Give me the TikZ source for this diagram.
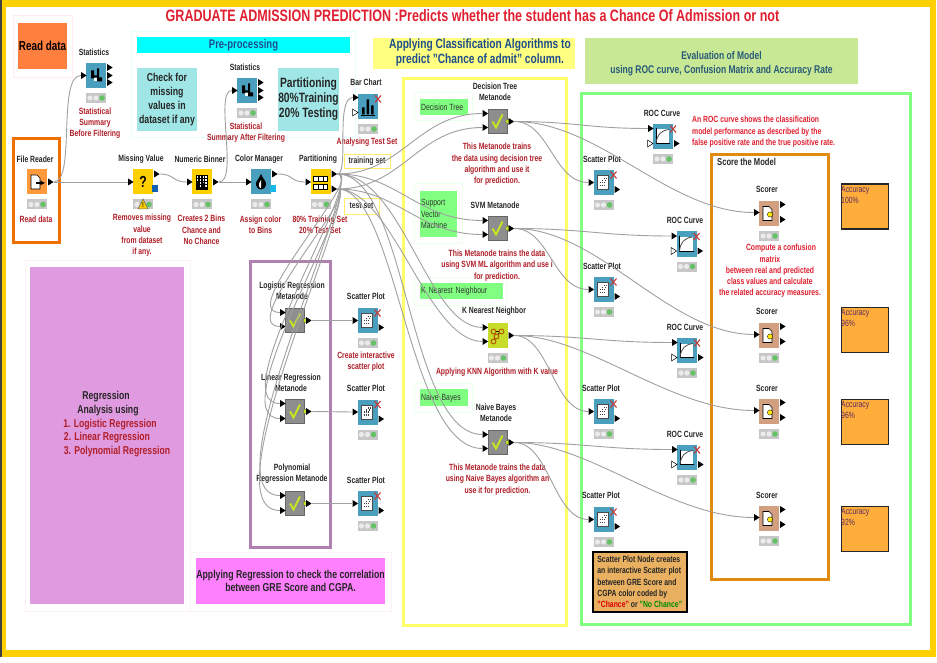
\documentclass[tikz,border=0pt]{standalone}
\usepackage{fontspec}
\setmainfont[FakeStretch=0.76]{Liberation Sans}
\usetikzlibrary{shapes.geometric}
\definecolor{rd}{HTML}{B01E28}
\definecolor{rdb}{HTML}{E02030}
\definecolor{kteal}{HTML}{4A9FBF}
\definecolor{kyel}{HTML}{FFD000}
\definecolor{korg}{HTML}{FF9A3C}
\definecolor{kscor}{HTML}{D2A081}
\definecolor{kmeta}{HTML}{8E8E8E}
\definecolor{kknn}{HTML}{C8DC2A}
\definecolor{chk}{HTML}{C8E61E}
\definecolor{wirec}{HTML}{A0A0A0}
\definecolor{navy}{HTML}{1F4E8C}
\definecolor{lgreen}{HTML}{80FF80}
\definecolor{accc}{HTML}{FFAD3B}
\definecolor{accT}{HTML}{5A2A60}
\definecolor{stgreen}{HTML}{66C266}
\definecolor{purecyan}{HTML}{00FFFF}
\definecolor{skyport}{HTML}{18B8E8}
\definecolor{blueport}{HTML}{1060B0}
\definecolor{readorg}{HTML}{FF7F3F}
\tikzset{
  kbody/.style={rectangle,minimum width=20pt,minimum height=25pt,inner sep=0pt,draw=none},
  kstat/.style={rectangle,fill=black!22,minimum width=20pt,minimum height=10pt,inner sep=0pt},
  kin/.style={isosceles triangle,isosceles triangle apex angle=70,isosceles triangle stretches,minimum width=7pt,minimum height=5.5pt,inner sep=0pt,fill=black},
  khol/.style={kin,fill=white,draw=black,line width=.5pt},
  wire/.style={draw=wirec,line width=.9pt},
  ttl/.style={font=\fontsize{9}{11.3}\selectfont\bfseries,align=center,text=black!85,inner sep=0pt},
  lbl/.style={font=\fontsize{9}{11.3}\selectfont\bfseries,align=center,text=rd,inner sep=0pt},
  band/.style={rectangle,inner sep=0pt,align=center},
  frm/.style={draw,line width=3pt,fill=none},
  halo/.style={draw,line width=.6pt,fill=none},
  greenbox/.style={rectangle,fill=lgreen,inner sep=1pt,align=left,anchor=north west,font=\fontsize{9}{11.3}\selectfont,text=black!80},
  accbox/.style={rectangle,fill=accc,draw=black!85,line width=1.6pt,minimum width=47pt,minimum height=45pt,inner sep=0pt},
  acct/.style={font=\fontsize{9}{11.3}\selectfont,text=accT,align=left,anchor=north west,inner sep=0pt},
  tagbox/.style={rectangle,draw=yellow!85!orange!60,line width=.9pt,font=\fontsize{9}{11}\selectfont\bfseries,inner sep=0pt,text=black!80},
}
\newcommand{\knode}[4]{%
  \node[kbody,fill=#4] (#1) at (#2,#3) {};
  \node[kstat] (#1-s) at (#2,#3+22.5) {};
  \fill[black!8] (#2-6,#3+22.5) circle (2.6pt) (#2,#3+22.5) circle (2.6pt);
  \fill[stgreen] (#2+6,#3+22.5) circle (2.8pt);
}
\newcommand{\pin}[3]{\node[kin] (#1-#2) at ([shift={(-13,#3)}]#1.center) {};}
\newcommand{\phol}[3]{\node[khol] (#1-#2) at ([shift={(-13.5,#3)}]#1.center) {};}
\newcommand{\pout}[3]{\node[kin] (#1-#2) at ([shift={(13,#3)}]#1.center) {};}
\newcommand{\wire}[4]{\draw[wire] (#1.east) .. controls +(#3,0) and +(-#4,0) .. (#2.west);}
% glyphs
\newcommand{\gStat}[1]{\begin{scope}[shift={(#1.center)}]
  \fill[black] (-5,-5) rectangle (-2,3) (1,-7) rectangle (3,6) (-2,0) rectangle (1,2) (3,2) rectangle (6,6);
  \fill[white] (-2,3) rectangle (1,6);
\end{scope}}
\newcommand{\gX}[1]{\begin{scope}[shift={(#1.center)}]
  \draw[red!55!gray,line width=1.1pt] (7,-11) -- (13,-4) (13,-11) -- (7,-4);
\end{scope}}
\newcommand{\gScat}[1]{\begin{scope}[shift={(#1.center)}]
  \fill[white,draw=black!70,line width=.5pt] (-6,-7) rectangle (5,7);
  \foreach \a/\b in {-3/3,-1/3,1/3,3/-4,1/-4,-1/0,1/0,-3/0,-1/-2,2/-2}{\fill[black!75] (\a-.6,\b-.6) rectangle (\a+.6,\b+.6);}
\end{scope}}
\newcommand{\gRoc}[1]{\begin{scope}[shift={(#1.center)}]
  \fill[white] (-7,-7) rectangle (6,7);
  \draw[black,line width=.9pt] (-7,-8) -- (-7,7) -- (7,7);
  \draw[black!70,line width=.8pt] (-7,7) .. controls (-6,-2) and (-2,-6) .. (6,-7);
\end{scope}}
\newcommand{\gScor}[1]{\begin{scope}[shift={(#1.center)}]
  \fill[white,draw=black,line width=.6pt] (-6,-7) -- (0,-7) -- (3,-4) -- (3,7) -- (-6,7) -- cycle;
  \fill[yellow!90!orange,draw=black,line width=.3pt] (1,1) circle (2.6pt);
\end{scope}}
\newcommand{\gMeta}[1]{\begin{scope}[shift={(#1.center)}]
  \draw[black!60,line width=.8pt] (-9.5,-12) rectangle (9.5,12);
  \draw[chk,line width=1.9pt] (-5,0) -- (-1.5,6) -- (5,-7);
\end{scope}}
\newcommand{\gDot}[1]{\fill[chk,draw=black!60,line width=.3pt] ([shift={(10.5,0)}]#1.center) circle (2.3pt);}
\begin{document}
\begin{tikzpicture}[x=1pt,y=-1pt]
\useasboundingbox (0,0) rectangle (937,663);
\fill[white] (0,0) rectangle (937,663);
% outer frame
\fill[kyel] (0,0) rectangle (936,657);
\fill[white] (6,7) rectangle (930,650);
\fill[black!75] (0,0) rectangle (1.6,657);
% halos
\draw[halo,draw=red!7] (13,15) rectangle (72,77);
\draw[halo,draw=purecyan!10] (131,31) rectangle (355,137);
\draw[halo,draw=magenta!5] (25,260) rectangle (190,611);
\draw[halo,draw=magenta!5] (190,552) rectangle (391,611);
\draw[halo,draw=green!7] (414,92) rectangle (472,120);
\draw[halo,draw=green!7] (414,183) rectangle (462,243);
\draw[halo,draw=green!7] (414,277) rectangle (506,305);
\draw[halo,draw=green!7] (414,383) rectangle (472,412);
% bands
\node[band,fill=readorg,minimum width=49pt,minimum height=46pt,font=\fontsize{13}{15}\selectfont\bfseries] (readbox) at (42.5,46) {Read data};
\node[band,fill=purecyan,minimum width=213pt,minimum height=16pt,font=\fontsize{12.5}{15}\selectfont\bfseries,text=navy] (prep) at (243.5,45.5) {Pre-processing};
\node[band,fill={rgb,255:red,160;green,230;blue,230},minimum width=60pt,minimum height=63pt,font=\fontsize{11.5}{14}\selectfont\bfseries,text=black!85] (chk) at (167,99.5) {Check for\\missing\\values in\\dataset if any};
\node[band,fill={rgb,255:red,160;green,230;blue,230},minimum width=59pt,minimum height=63pt,font=\fontsize{13.5}{15}\selectfont\bfseries,text=black!85] (part) at (308.5,99.5) {Partitioning\\80\%Training\\20\% Testing};
\node[band,fill={rgb,255:red,255;green,255;blue,128},minimum width=202pt,minimum height=31pt] (clsb) at (474,53.5) {};
\node[font=\fontsize{13.4}{14.5}\selectfont\bfseries,text=navy,align=center,inner sep=0pt] (clst) at (480,52.5) {Applying Classification Algorithms to\\predict "Chance of admit" column.};
\node[band,fill={rgb,255:red,200;green,232;blue,150},minimum width=273pt,minimum height=46pt,font=\fontsize{11.2}{14}\selectfont\bfseries,text={rgb,255:red,40;green,90;blue,120}] (evalb) at (721.5,61) {\rule{0pt}{14pt}Evaluation of Model\\using ROC curve, Confusion Matrix and Accuracy Rate};
\node[band,fill={rgb,255:red,224;green,154;blue,224},minimum width=154pt,minimum height=337pt] (regb) at (107,435.5) {};
\node[band,fill={rgb,255:red,255;green,128;blue,255},minimum width=189pt,minimum height=46pt,font=\fontsize{11.5}{13.5}\selectfont\bfseries,text=black!85] (magb) at (290.5,581) {Applying Regression to check the correlation\\between GRE Score and CGPA.};
% title
\node[font=\fontsize{16.5}{18}\selectfont\bfseries,text=rdb,inner sep=0pt] (title) at (472.5,16) {GRADUATE ADMISSION PREDICTION :Predicts whether the student has a Chance Of Admission or not};
% regression text
\node[font=\fontsize{11.4}{13.5}\selectfont\bfseries,text=black!85,inner sep=0pt] (rg1) at (106,397) {Regression};
\node[font=\fontsize{11.4}{13.5}\selectfont\bfseries,text=black!85,inner sep=0pt] (rg2) at (108,411) {Analysis using};
\node[font=\fontsize{11.4}{13.5}\selectfont\bfseries,text=rd,inner sep=0pt] (rg3) at (110,425) {1. Logistic Regression};
\node[font=\fontsize{11.4}{13.5}\selectfont\bfseries,text=rd,inner sep=0pt] (rg4) at (107,438) {2. Linear Regression};
\node[font=\fontsize{11.4}{13.5}\selectfont\bfseries,text=rd,inner sep=0pt] (rg5) at (117,452) {3. Polynomial Regression};
% frames
\draw[frm,draw={rgb,255:red,240;green,112;blue,0}] (13.5,138.5) rectangle (59.5,242.5);
\draw[frm,draw={rgb,255:red,176;green,128;blue,176}] (250.5,261.5) rectangle (330.5,547.5);
\draw[frm,draw={rgb,255:red,255;green,255;blue,102}] (403.5,78.5) rectangle (566.5,625);
\draw[frm,draw=lgreen] (581.5,93.5) rectangle (910,624);
\draw[frm,draw={rgb,255:red,224;green,138;blue,16}] (711.5,154.5) rectangle (828,579);
% green tags
\node[greenbox,minimum width=48pt,minimum height=16pt] (gt1) at (420,99) {Decision Tree\rule{4pt}{0pt}};
\node[greenbox,text width=35pt,minimum height=46pt] (gt2) at (420,191) {Support\\Vector\\Machine};
\node[greenbox,text width=81pt,minimum height=16pt] (gt3) at (420,283) {K Nearest Neighbour};
\node[greenbox,text width=46pt,minimum height=17pt] (gt4) at (420,389) {Naive Bayes};
% training/test
\node[tagbox,minimum width=46pt,minimum height=14pt] (trn) at (367,161) {training set};
\node[tagbox,minimum width=35pt,minimum height=16pt] (tst) at (361.5,206) {test set};
% nodes
\knode{fr}{37}{182}{korg}
\knode{st1}{96}{75.5}{kteal}
\knode{mv}{143}{182}{kyel}
\knode{nb}{202}{182}{kyel}
\knode{cm}{261}{182}{kteal}
\knode{pt}{320.5}{182}{kyel}
\knode{st2}{247}{90.5}{kteal}
\knode{bc}{368}{106.5}{kteal}
\knode{knn}{497.5}{335.5}{kknn}
\knode{sp1}{603.5}{182.5}{kteal}
\knode{sp2}{603.5}{289.5}{kteal}
\knode{sp3}{603.5}{411.5}{kteal}
\knode{sp4}{603.5}{519.5}{kteal}
\knode{rc1}{663}{136.5}{kteal}
\knode{rc2}{686.5}{244}{kteal}
\knode{rc3}{687}{350.5}{kteal}
\knode{rc4}{687}{457.5}{kteal}
\knode{sc1}{769}{213.5}{kscor}
\knode{sc2}{769}{335.5}{kscor}
\knode{sc3}{769}{411.5}{kscor}
\knode{sc4}{769}{518.5}{kscor}
\knode{srg1}{367.5}{320.5}{kteal}
\knode{srg2}{367.5}{412}{kteal}
\knode{srg3}{367.5}{503.5}{kteal}
% metanodes (no status)
\node[kbody,fill=kmeta] (dt) at (497.5,121.5) {};
\node[kbody,fill=kmeta] (svm) at (497.5,228.5) {};
\node[kbody,fill=kmeta] (nbm) at (497.5,442.5) {};
\node[kbody,fill=kmeta] (lr) at (295,320.5) {};
\node[kbody,fill=kmeta] (lin) at (295,411.5) {};
\node[kbody,fill=kmeta] (pol) at (295,503.5) {};
\foreach \m in {dt,svm,nbm,lr,lin,pol}{\gMeta{\m}\gDot{\m}}
% glyphs
\begin{scope}[shift={(fr.center)}]
  \fill[white,draw=black,line width=.7pt] (-6,-7) -- (0,-7) -- (3,-4) -- (3,7) -- (-6,7) -- cycle;
  \draw[black,line width=1.2pt,-stealth] (-1,1) -- (8,1);
\end{scope}
\gStat{st1}\gStat{st2}
\node[font=\fontsize{16}{16}\selectfont\bfseries,inner sep=0pt] (qm) at (mv.center) {?};
\fill[blueport] ([shift={(9,3)}]mv.center) rectangle ([shift={(15,10)}]mv.center);
\fill[kyel,draw=black!60,line width=.5pt] ([shift={(0,17)}]mv.center) -- ([shift={(-5,27)}]mv.center) -- ([shift={(5,27)}]mv.center) -- cycle;
\node[font=\fontsize{7}{7}\selectfont\bfseries,inner sep=0pt] (ex) at ([shift={(0,23.5)}]mv.center) {!};
\begin{scope}[shift={(nb.center)}]
  \fill[black] (-6,-7) rectangle (6,8);
  \foreach \a in {-4.5,-1.5,1.5,4}{\foreach \b in {-5,-2,1,4}{\fill[white] (\a-.8,\b-.7) rectangle (\a+.5,\b+.7);}}
  \fill[black] (-6,-1) rectangle (-3,8) (0,1) rectangle (3,8);
\end{scope}
\begin{scope}[shift={(cm.center)}]
  \fill[black] (0,-8) .. controls (-2,-3) and (-6,0) .. (-5,3) .. controls (-4,9) and (4,9) .. (5,3) .. controls (6,0) and (2,-3) .. (0,-8) -- cycle;
  \fill[white] (0,-2) .. controls (-2,1) and (-3,3) .. (-1,6) -- (0,6) -- cycle;
\end{scope}
\fill[skyport] ([shift={(9,3)}]cm.center) rectangle ([shift={(15,10)}]cm.center);
\begin{scope}[shift={(pt.center)}]
  \foreach \yy in {-6,2}{
   \fill[white,draw=black,line width=.7pt] (-7,\yy) rectangle (7,\yy+5);
   \draw[black,line width=.5pt] (-2.5,\yy) -- (-2.5,\yy+5) (2.5,\yy) -- (2.5,\yy+5);}
\end{scope}
\begin{scope}[shift={(bc.center)}]
  \fill[black] (-6,1) rectangle (-3.5,8) (-1.5,-7) rectangle (1,8) (3,-1) rectangle (5.5,8);
  \draw[black,line width=.6pt] (-7,8.4) -- (7,8.4);
\end{scope}
\begin{scope}[shift={(knn.center)}]
  \draw[black,line width=.8pt] (-3,-4) -- (3,-4) -- (-1,1) -- (-4,5);
  \draw[orange!70!black,line width=1pt,fill=kknn] (-4,-4) circle (2.4pt) (4,-4) circle (2.4pt) (-1,1) circle (2.4pt) (-4,6) circle (2.4pt);
\end{scope}
\foreach \s in {sp1,sp2,sp3,sp4,srg1,srg2,srg3}{\gScat{\s}\gX{\s}}
\foreach \s in {rc1,rc2,rc3,rc4}{\gRoc{\s}\gX{\s}}
\foreach \s in {sc1,sc2,sc3,sc4}{\gScor{\s}}
\gX{bc}
% ports
\pout{fr}{o1}{0}
\pin{st1}{i1}{0}\pout{st1}{o1}{-8}\pout{st1}{o2}{0}\pout{st1}{o3}{7}
\pin{mv}{i1}{0}\pout{mv}{o1}{-8}
\pin{nb}{i1}{0}\pout{nb}{o1}{0}
\pin{cm}{i1}{0}\pout{cm}{o1}{-8}
\pin{pt}{i1}{0}\pout{pt}{o1}{-8}\pout{pt}{o2}{7}
\pin{st2}{i1}{0}\pout{st2}{o1}{-8}\pout{st2}{o2}{0}\pout{st2}{o3}{7}
\pin{bc}{i1}{-9}\phol{bc}{i2}{6}
\pin{dt}{i1}{-8}\pin{dt}{i2}{6}\pout{dt}{o1}{0}
\pin{svm}{i1}{-8}\pin{svm}{i2}{6}\pout{svm}{o1}{0}
\pin{knn}{i1}{-8}\pin{knn}{i2}{6}\pout{knn}{o1}{0}
\pin{nbm}{i1}{-8}\pin{nbm}{i2}{6}\pout{nbm}{o1}{0}
\pin{lr}{i1}{-8}\pin{lr}{i2}{6}\pout{lr}{o1}{0}
\pin{lin}{i1}{-8}\pin{lin}{i2}{7}\pout{lin}{o1}{0}
\pin{pol}{i1}{-8}\pin{pol}{i2}{7}\pout{pol}{o1}{0}
\foreach \s in {sp1,sp2,sp3,sp4,srg1,srg2,srg3}{\pin{\s}{i1}{0}\pout{\s}{o1}{7}}
\foreach \s in {rc1,rc2,rc3,rc4}{\pin{\s}{i1}{-8}\phol{\s}{i2}{7}\pout{\s}{o1}{7}}
\foreach \s in {sc1,sc2,sc3,sc4}{\pin{\s}{i1}{-1}\pout{\s}{o1}{-9}\pout{\s}{o2}{6}}
% titles
\node[ttl] (t1) at (35,159) {File Reader};
\node[ttl] (t2) at (94,52) {Statistics};
\node[ttl] (t3) at (141,159) {Missing Value};
\node[ttl] (t4) at (200,159) {Numeric Binner};
\node[ttl] (t5) at (259,159) {Color Manager};
\node[ttl] (t6) at (318,159) {Partitioning};
\node[ttl] (t7) at (245,67) {Statistics};
\node[ttl] (t8) at (366,82) {Bar Chart};
\node[ttl] (t9) at (495,92) {Decision Tree\\Metanode};
\node[ttl] (t10) at (495,205) {SVM Metanode};
\node[ttl] (t11) at (494,311) {K Nearest Neighbor};
\node[ttl] (t12) at (496,413) {Naive Bayes\\Metanode};
\node[ttl] (t13) at (602,159) {Scatter Plot};
\node[ttl] (t14) at (602,266) {Scatter Plot};
\node[ttl] (t15) at (601,388) {Scatter Plot};
\node[ttl] (t16) at (601,495) {Scatter Plot};
\node[ttl] (t17) at (662,113) {ROC Curve};
\node[ttl] (t18) at (685,220) {ROC Curve};
\node[ttl] (t19) at (685,327) {ROC Curve};
\node[ttl] (t20) at (685,434) {ROC Curve};
\node[ttl] (t21) at (767,189) {Scorer};
\node[ttl] (t22) at (767,311) {Scorer};
\node[ttl] (t23) at (767,388) {Scorer};
\node[ttl] (t24) at (767,495) {Scorer};
\node[ttl] (t25) at (292,291) {Logistic Regression\\Metanode};
\node[ttl] (t26) at (291,383) {Linear Regression\\Metanode};
\node[ttl] (t27) at (292,474) {Polynomial\\Regression Metanode};
\node[ttl] (t28) at (366,296) {Scatter Plot};
\node[ttl] (t29) at (366,388) {Scatter Plot};
\node[ttl] (t30) at (366,480) {Scatter Plot};
\node[ttl,anchor=west,font=\fontsize{10}{12}\selectfont\bfseries] (t31) at (717,162) {Score the Model};
% red labels
\node[lbl] (l1) at (36,219) {Read data};
\node[lbl] (l2) at (95,123) {Statistical\\Summary\\Before Filtering};
\node[lbl] (l3) at (246,132.5) {Statistical\\Summary After Filtering};
\node[lbl] (l4) at (367,142) {Analysing Test Set};
\node[lbl] (l5) at (142,235.5) {Removes missing\\value\\from dataset\\if any.};
\node[lbl] (l6) at (201.5,230) {Creates 2 Bins\\Chance and\\No Chance};
\node[lbl] (l7) at (260.5,224.5) {Assign color\\to Bins};
\node[lbl] (l8) at (320,224.5) {80\% Training Set\\20\% Test Set};
\node[lbl] (l9) at (366,362) {Create interactive\\scatter plot};
\node[lbl] (l10) at (497,164.5) {This Metanode trains\\the data using decision tree\\algorithm and use it\\for prediction.};
\node[lbl] (l11) at (497,265.5) {This Metanode trains the data\\using SVM ML algorithm and use i\\for prediction.};
\node[lbl] (l12) at (497,372) {Applying KNN Algorithm with K value};
\node[lbl] (l13) at (497.5,479.5) {This Metanode trains the data\\using Naive Bayes algorithm an\\use it for prediction.};
\node[lbl,text=rdb,align=left,anchor=north west] (l14) at (692,116) {An ROC curve shows the classification\\model performance as described by the\\false positive rate and the true positive rate.};
\node[lbl,text=rdb] (l15) at (770,271) {\hspace*{22pt}Compute a confusion\\matrix\\between real and predicted\\class values and calculate\\the related accuracy measures.};
% accuracy
\node[accbox,anchor=north west] (a1) at (840.5,183.5) {};
\node[accbox,anchor=north west] (a2) at (840.5,306.5) {};
\node[accbox,anchor=north west] (a3) at (840.5,398.5) {};
\node[accbox,anchor=north west] (a4) at (840.5,505.5) {};
\node[acct] (at1) at (841,186) {Accuracy\\100\%};
\node[acct] (at2) at (841,309) {Accuracy\\96\%};
\node[acct] (at3) at (841,401) {Accuracy\\96\%};
\node[acct] (at4) at (841,508) {Accuracy\\92\%};
% note
\node[rectangle,anchor=north west,draw=black,line width=1.6pt,fill={rgb,255:red,232;green,176;blue,96},minimum width=94pt,minimum height=60pt,inner sep=1.5pt,align=left,font=\fontsize{9}{11.3}\selectfont\bfseries,text=black!85] (note) at (592,551) {Scatter Plot Node creates\\an interactive Scatter plot\\between GRE Score and\\CGPA color coded by\\\textcolor{red!85!black}{"Chance"} or \textcolor{green!55!black}{"No Chance"}};
% wires
\draw[wire] (fr-o1.east) -- (mv-i1.west);
\wire{fr-o1}{st1-i1}{22}{24}
\wire{mv-o1}{nb-i1}{15}{15}
\wire{nb-o1}{st2-i1}{20}{18}
\draw[wire] (nb-o1.east) -- (cm-i1.west);
\wire{cm-o1}{pt-i1}{16}{16}
\wire{pt-o1}{bc-i1}{12}{18}
\wire{pt-o1}{dt-i1}{65}{65}
\wire{pt-o2}{dt-i2}{65}{65}
\wire{pt-o1}{svm-i1}{60}{65}
\wire{pt-o2}{svm-i2}{60}{65}
\wire{pt-o1}{knn-i1}{65}{55}
\wire{pt-o2}{knn-i2}{55}{55}
\wire{pt-o1}{nbm-i1}{70}{75}
\wire{pt-o2}{nbm-i2}{60}{75}
\wire{pt-o1}{lr-i1}{30}{45}
\wire{pt-o2}{lr-i2}{25}{45}
\wire{pt-o1}{lin-i1}{30}{60}
\wire{pt-o2}{lin-i2}{25}{60}
\wire{pt-o1}{pol-i1}{30}{75}
\wire{pt-o2}{pol-i2}{25}{75}
\draw[wire] (lr-o1.east) -- (srg1-i1.west);
\draw[wire] (lin-o1.east) -- (srg2-i1.west);
\draw[wire] (pol-o1.east) -- (srg3-i1.west);
\wire{dt-o1}{sp1-i1}{35}{35}
\wire{dt-o1}{rc1-i1}{60}{60}
\wire{dt-o1}{sc1-i1}{85}{85}
\wire{svm-o1}{sp2-i1}{35}{35}
\wire{svm-o1}{rc2-i1}{70}{70}
\wire{svm-o1}{sc2-i1}{85}{85}
\wire{knn-o1}{sp3-i1}{35}{35}
\wire{knn-o1}{rc3-i1}{70}{70}
\wire{knn-o1}{sc3-i1}{75}{85}
\wire{nbm-o1}{sp4-i1}{35}{35}
\wire{nbm-o1}{rc4-i1}{70}{70}
\wire{nbm-o1}{sc4-i1}{75}{85}
\end{tikzpicture}
\end{document}
